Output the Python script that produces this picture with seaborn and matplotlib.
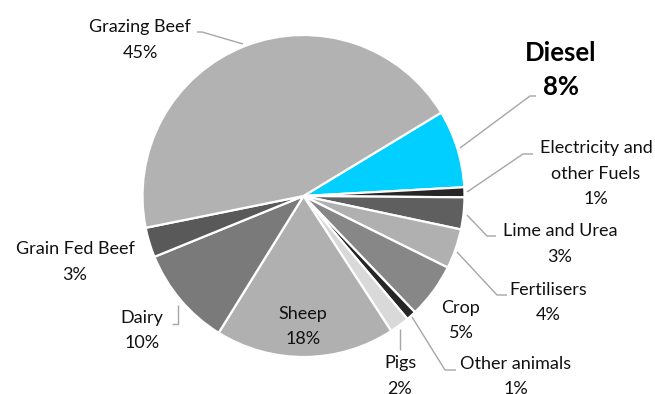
import matplotlib
matplotlib.use("Agg")
import matplotlib.pyplot as plt
import seaborn as sns

sns.set_theme(style="white")
plt.rcParams['font.family'] = ['Lato', 'DejaVu Sans']

# Data (clockwise, starting with Diesel)
categories = ["Diesel", "Electricity and\nother Fuels", "Lime and Urea", "Fertilisers",
              "Crop", "Other animals", "Pigs", "Sheep", "Dairy", "Grain Fed Beef",
              "Grazing Beef"]
values = [7.8, 1.0, 3.2, 4.0, 5.5, 1.0, 2.0, 18.0, 10.0, 3.0, 44.5]
pct_labels = ["8%", "1%", "3%", "4%", "5%", "1%", "2%", "18%", "10%", "3%", "45%"]
colors = ["#00cfff", "#262626", "#5f5f5f", "#b0b0b0", "#878787", "#262626",
          "#d9d9d9", "#b0b0b0", "#7a7a7a", "#595959", "#b2b2b2"]

W, H = 655, 394
fig = plt.figure(figsize=(W / 100, H / 100), dpi=100)
ax = fig.add_axes([0, 0, 1, 1])

cx, cy, r = 303.5, 196, 161
ax.pie(values, colors=colors, startangle=31.2, counterclock=False,
       radius=r, center=(cx, H - cy), frame=True,
       wedgeprops=dict(edgecolor="white", linewidth=1.6))
ax.set_xlim(0, W)
ax.set_ylim(0, H)
ax.set_aspect("equal")
ax.axis("off")

def Y(y):
    return H - y

# label layout: (text x, first-line y, leader polyline)
layout = {
    "Diesel": (561, 53, [(460, 148), (530, 96), (536, 96)]),
    "Electricity and\nother Fuels": (596, 148, [(467, 192), (523, 154), (533, 154)]),
    "Lime and Urea": (560, 231, [(467, 215), (487, 236), (496, 236)]),
    "Fertilisers": (548, 290, [(457, 252), (497, 295), (507, 295)]),
    "Crop": (461, 308, None),
    "Other animals": (516, 364, [(412, 317), (445, 370), (456, 370)]),
    "Pigs": (400, 363, [(400, 329), (400, 350)]),
    "Sheep": (303, 314, None),
    "Dairy": (142, 318, [(178, 305), (178, 324), (172, 324)]),
    "Grain Fed Beef": (75, 249, None),
    "Grazing Beef": (140, 27, [(243, 44), (202, 32), (197, 32)]),
}

line_gap = 25.5
for cat, pct in zip(categories, pct_labels):
    tx, ty, leader = layout[cat]
    if leader:
        xs = [p[0] for p in leader]
        ys = [Y(p[1]) for p in leader]
        ax.plot(xs, ys, color="#a6a6a6", lw=1.0, solid_capstyle="butt")
    lines = cat.split("\n") + [pct]
    if cat == "Diesel":
        ax.text(tx, Y(ty), lines[0], ha="center", va="center", fontsize=18.5,
                fontweight="bold", color="black")
        ax.text(tx, Y(ty + 34), lines[1], ha="center", va="center", fontsize=18.5,
                fontweight="bold", color="black")
    else:
        for i, t in enumerate(lines):
            ax.text(tx, Y(ty + i * line_gap), t, ha="center", va="center",
                    fontsize=13, color="#111111")

fig.savefig("out.png", dpi=100)
